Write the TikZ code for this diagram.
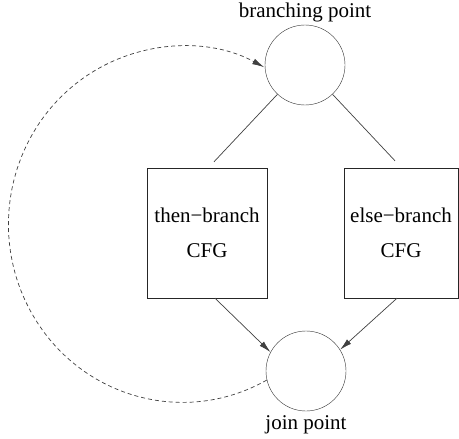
\documentclass[tikz,border=0pt]{standalone}
\usepackage{fontspec}
\setmainfont{Liberation Serif}
\usetikzlibrary{positioning}
\usetikzlibrary{arrows.meta}

\begin{document}
\begin{tikzpicture}[x=1pt,y=1pt,
        point/.style={circle,draw=black!80,minimum size=80pt,inner sep=0pt},
        cfg/.style={rectangle,draw=black!85,minimum height=130pt,align=center,inner sep=0pt},
        caption/.style={inner sep=0pt},
        edge/.style={draw=black!75,line width=0.7pt},
        arr/.style={edge,-{Latex[length=12pt,width=6pt]}},
        back/.style={arr,dash pattern=on 4pt off 3pt}
        ]
        \fontsize{21}{35}\selectfont
        \useasboundingbox (0,0) rectangle (459,-439);
        \node (top)  [point] at (305,-65)  {};
        \node (join) [point] at (306,-371) {};
        \node (then) [cfg,minimum width=120pt] at (207,-233) {then−branch\\CFG};
        \node (else) [cfg,minimum width=114pt] at (401,-233) {else−branch\\CFG};
        \node (toplbl)  [caption,above=3pt of top]  {branching point};
        \node (joinlbl) [caption,below=4pt of join] {join point};
        \draw[edge] (top) -- ([shift={(7,6)}]then.north);
        \draw[edge] (top) -- ([shift={(-6,7)}]else.north);
        \draw[arr] ([xshift=8pt]then.south) -- (join.152);
        \draw[arr] ([xshift=-4pt]else.south) -- (join.32);
        \draw[back] (join.193) arc[start angle=-61,end angle=-298,x radius=174,y radius=178];
\end{tikzpicture}
\end{document}
